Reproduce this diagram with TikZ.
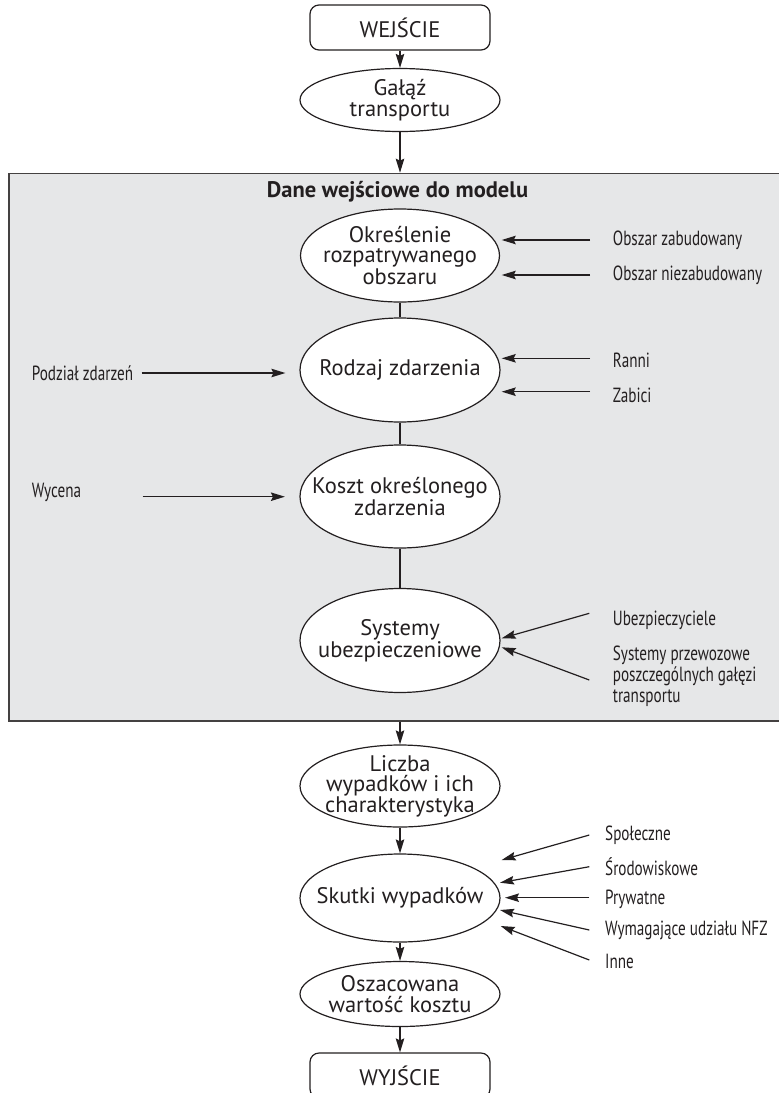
\documentclass[tikz,border=0pt]{standalone}
\usepackage{fontspec}
\setmainfont{PT Sans}
\newfontfamily\narrowfont[FakeStretch=0.74]{PT Sans}
\usetikzlibrary{shapes.geometric,arrows.meta,calc}
\definecolor{panelgray}{RGB}{230,231,232}
\definecolor{ink}{RGB}{35,31,32}

\begin{document}
\begin{tikzpicture}[x=1pt,y=-1pt,
  line/.style={draw=ink,line width=1.2pt},
  arr/.style={line,-{Stealth[length=14pt,width=8.5pt,inset=2pt]}},
  oval/.style={ellipse,draw=ink,line width=1.2pt,fill=white,inner sep=0pt,minimum width=200pt},
  ovaltext/.style={align=center,inner sep=0pt,text=ink,font=\fontsize{22.5}{20.5}\selectfont},
  term/.style={rectangle,rounded corners=9pt,draw=ink,line width=1.2pt,fill=white,
    minimum width=180pt,minimum height=45pt,inner sep=0pt,text=ink,font=\fontsize{22.5}{22}\selectfont},
  lab/.style={anchor=west,inner sep=0pt,align=left,text=ink,font=\narrowfont\fontsize{20.5}{20.8}\selectfont},
]
\useasboundingbox (0,0) rectangle (779,1093);
\clip (0,0) rectangle (779,1093);

% input data panel
\node (panel) [rectangle,draw=ink!85,line width=1.5pt,fill=panelgray,anchor=north west,
  minimum width=770.5pt,minimum height=547.5pt,inner sep=0pt] at (8,172.7) {};
\node (title) [text=ink,font=\bfseries\fontsize{22.5}{22}\selectfont] at (397.5,192) {Dane wejściowe do modelu};

% main chain
\node (wej) [term] at (400,27.5) {WEJŚCIE};
\node (gal) [oval,minimum height=63pt,label={[ovaltext]center:{Gałąź\\transportu}}] at (400,100) {};
\node (okr) [oval,minimum width=199pt,minimum height=93pt,label={[ovaltext]center:{Określenie\\rozpatrywanego\\obszaru}}] at (400,255.5) {};
\node (rod) [oval,minimum height=104pt,label={[ovaltext]center:{Rodzaj zdarzenia}}] at (400,370) {};
\node (kos) [oval,minimum height=103pt,label={[ovaltext]center:{Koszt określonego\\zdarzenia}}] at (400,496.5) {};
\node (sys) [oval,minimum height=104pt,label={[ovaltext]center:{Systemy\\ubezpieczeniowe}}] at (400,640.5) {};
\node (lic) [oval,minimum height=82pt,label={[ovaltext]center:{Liczba\\wypadków i ich\\charakterystyka}}] at (400,786) {};
\node (sku) [oval,minimum height=88pt,label={[ovaltext]center:{Skutki wypadków}}] at (400,898) {};
\node (osz) [oval,minimum height=65pt,label={[ovaltext]center:{Oszacowana\\wartość kosztu}}] at (400,994) {};
\node (wyj) [term] at (400,1075.5) {WYJŚCIE};

\draw[arr] (wej) -- (gal);
\draw[arr] (gal) -- (gal.south |- panel.north);
\draw[line] (okr) -- (rod);
\draw[line] (rod) -- (kos);
\draw[line] (kos) -- (sys);
\draw[arr] (lic.north |- panel.south) -- (lic);
\draw[arr] (lic) -- (sku);
\draw[arr] (sku) -- (osz);
\draw[arr] (osz) -- (wyj);

% left-hand inputs
\node (podz) [lab] at (31.7,373) {Podział zdarzeń};
\node (wyc) [lab] at (31.7,492.7) {Wycena};
\coordinate (podz-s) at (141.7,373);
\coordinate (wyc-s) at (142.6,496.7);
\draw[arr] (podz-s) -- ($(podz-s -| rod.west)+(-14,0)$);
\draw[arr] (wyc-s) -- ($(wyc-s -| kos.west)+(-14.5,0)$);

% right-hand inputs, upper panel
\node (ob1) [lab] at (612.7,240) {Obszar zabudowany};
\node (ob2) [lab] at (612.7,275) {Obszar niezabudowany};
\node (ran) [lab] at (612.7,360) {Ranni};
\node (zab) [lab] at (612.7,395) {Zabici};
\node (ube) [lab] at (612.7,620) {Ubezpieczyciele};
\node (prz) [lab] at (612.7,676) {Systemy przewozowe\\poszczególnych gałęzi\\transportu};

\coordinate (ob1-s) at (590,240);
\coordinate (ob2-s) at (590,275);
\coordinate (ran-s) at (590,358.3);
\coordinate (zab-s) at (590,391.7);
\coordinate (ube-s) at (589.3,613.3);
\coordinate (prz-s) at (589.3,680);
\draw[arr] (ob1-s) -- ($(okr.center)+(101.7,-15.5)$);
\draw[arr] (ob2-s) -- ($(okr.center)+(101.7,19.5)$);
\draw[arr] (ran-s) -- ($(rod.center)+(101.7,-11.7)$);
\draw[arr] (zab-s) -- ($(rod.center)+(101.7,21.7)$);
\draw[arr] (ube-s) -- ($(sys.center)+(101.7,-2.2)$);
\draw[arr] (prz-s) -- ($(sys.center)+(101.7,6.8)$);

% right-hand inputs, consequences
\node (spo) [lab] at (605,835) {Społeczne};
\node (sro) [lab] at (605,866.7) {Środowiskowe};
\node (pry) [lab] at (605,899) {Prywatne};
\node (nfz) [lab] at (605,930) {Wymagające udziału NFZ};
\node (inn) [lab] at (605,961.7) {Inne};

\coordinate (spo-s) at (589.3,835);
\coordinate (sro-s) at (589.3,866.7);
\coordinate (pry-s) at (589.3,897.7);
\coordinate (nfz-s) at (589.3,930);
\coordinate (inn-s) at (589.3,960);
\draw[arr] (spo-s) -- ($(sku.center)+(101.7,-38)$);
\draw[arr] (sro-s) -- ($(sku.center)+(100,-15.3)$);
\draw[arr] (pry-s) -- ($(sku.center)+(105,-0.3)$);
\draw[arr] (nfz-s) -- ($(sku.center)+(100,12)$);
\draw[arr] (inn-s) -- ($(sku.center)+(100.7,28)$);
\end{tikzpicture}
\end{document}
